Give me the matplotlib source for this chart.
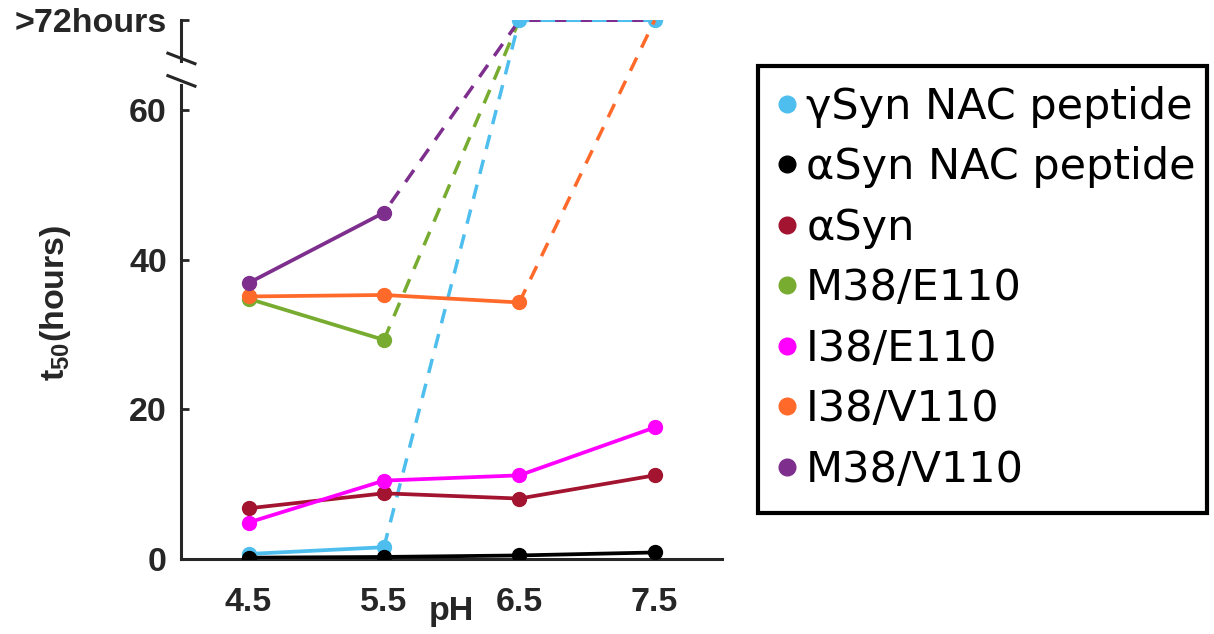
import numpy as np
import matplotlib.pyplot as plt
from matplotlib.lines import Line2D
from matplotlib.patches import Rectangle

plt.rcParams['font.family'] = ['Liberation Sans', 'DejaVu Sans']
plt.rcParams['mathtext.fontset'] = 'custom'
plt.rcParams['mathtext.rm'] = 'Liberation Sans:bold'
plt.rcParams['mathtext.bf'] = 'Liberation Sans:bold'

# t50 in hours, None = no aggregation within 72 h
ph = [4.5, 5.5, 6.5, 7.5]
gsyn_nac = [0.7, 1.6, None, None]
asyn_nac = [0.2, 0.3, 0.5, 0.9]
asyn = [6.8, 8.8, 8.1, 11.2]
m38_e110 = [34.8, 29.3, None]
i38_e110 = [4.9, 10.5, 11.2, 17.6]
i38_v110 = [35.1, 35.3, 34.3, None]
m38_v110 = [36.9, 46.3, None, None]

labels = ['γSyn NAC peptide', 'αSyn NAC peptide', 'αSyn', 'M38/E110',
          'I38/E110', 'I38/V110', 'M38/V110']
colors = ['#4DBEEE', '#000000', '#A2142F', '#77AC30', '#FF00FF', '#FF6A2B', '#7E2F8E']
series = [gsyn_nac, asyn_nac, asyn, m38_e110, i38_e110, i38_v110, m38_v110]
cap = 72

fig = plt.figure(figsize=(12.14, 6.34), dpi=100)
ax = fig.add_axes([0.149, 0.118, 0.446, 0.850])

dash_order = [3, 6, 0, 5]  # draw order for the dashed >72h parts
for i, (vals, c) in enumerate(zip(series, colors)):
    x = [p for p, v in zip(ph, vals) if v is not None]
    y = [v for v in vals if v is not None]
    ax.plot(x, y, color=c, lw=2.7, marker='o', ms=10, zorder=3 + i * 0.1)
    if len(y) < len(vals):
        xd = [x[-1]] + [p for p, v in zip(ph, vals) if v is None]
        yd = [y[-1]] + [cap] * (len(xd) - 1)
        z = 2 + dash_order.index(i) * 0.1 if i in dash_order else 2
        off = 4 if i == 6 else 0
        ax.plot(xd, yd, color=c, lw=2.5, ls=(off, (4.2, 3.2)), zorder=z)
        if i == 0:
            ax.plot(xd[1:], yd[1:], 'o', color=c, ms=10, zorder=z)

ax.set_xlim(4, 8)
ax.set_ylim(0, cap)
ax.set_xticks(ph)
ax.set_xticklabels(['4.5', '5.5', '6.5', '7.5'])
ax.set_yticks([0, 20, 40, 60, cap])
ax.set_yticklabels(['0', '20', '40', '60', '>72hours'])

axcol = '#262626'
for s in ['top', 'right']:
    ax.spines[s].set_visible(False)
ax.spines['bottom'].set_linewidth(2.2)
ax.spines['bottom'].set_color(axcol)
ax.spines['left'].set_linewidth(2.2)
ax.spines['left'].set_color(axcol)
ax.spines['left'].set_bounds(0, 63.4)

# upper piece of the broken axis and the break marks
tr = ax.get_yaxis_transform()
ax.plot([0, 0], [66.6, cap], color=axcol, lw=2.2, transform=tr, clip_on=False, zorder=5)
ax.plot([-0.024, 0.026], [67.6, 66.2], color=axcol, lw=2.2, transform=tr, clip_on=False, zorder=5)
ax.plot([-0.024, 0.026], [64.6, 63.2], color=axcol, lw=2.2, transform=tr, clip_on=False, zorder=5)

ax.tick_params(axis='both', direction='in', length=6, width=2, color=axcol,
               labelsize=24.5, labelcolor=axcol)
ax.tick_params(axis='x', pad=20, length=0)
ax.tick_params(axis='y', pad=10)
for t in ax.get_xticklabels() + ax.get_yticklabels():
    t.set_fontweight('bold')

ax.set_xlabel('pH', fontsize=24.5, fontweight='bold', color=axcol)
ax.xaxis.set_label_coords(0.5, -0.068)
ax.set_ylabel(r'$\mathbf{t_{50}}$(hours)', fontsize=24.5, fontweight='bold', color=axcol)
ax.yaxis.set_label_coords(-0.2, 0.475)

# legend without its own frame, plus a box drawn around it
handles = [Line2D([], [], ls='none', marker='o', color=c, ms=12) for c in colors]
fig.legend(handles, labels, loc='upper left', bbox_to_anchor=(0.641, 0.865),
           prop={'family': 'DejaVu Sans', 'size': 31}, frameon=False,
           handlelength=0.4, handletextpad=0.25, labelspacing=0.43,
           borderpad=0, borderaxespad=0)
fig.patches.append(Rectangle((0.6245, 0.191), 0.3695, 0.705, transform=fig.transFigure,
                             fill=False, edgecolor='black', lw=3, zorder=5))

fig.savefig('out.png', dpi=100)
